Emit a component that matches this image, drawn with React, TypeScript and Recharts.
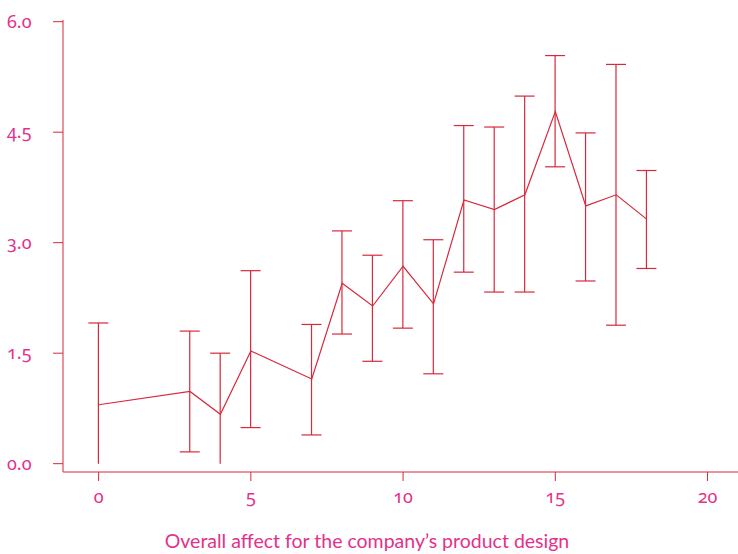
import { ComposedChart, Line, Bar, XAxis, YAxis, Label } from 'recharts';

// Error bar chart: mean rating per x with lower/upper bounds
const xs = [0, 3, 4, 5, 7, 8, 9, 10, 11, 12, 13, 14, 15, 16, 17, 18];
const means = [0.8, 0.98, 0.67, 1.53, 1.15, 2.45, 2.14, 2.68, 2.17, 3.58, 3.45, 3.65, 4.78, 3.5, 3.65, 3.32];
const lower = [0, 0.16, 0, 0.49, 0.39, 1.76, 1.39, 1.84, 1.22, 2.6, 2.33, 2.33, 4.03, 2.48, 1.88, 2.65];
const upper = [1.91, 1.8, 1.5, 2.62, 1.89, 3.16, 2.83, 3.57, 3.04, 4.59, 4.57, 4.99, 5.54, 4.49, 5.42, 3.98];

const xTicks = [0, 5, 10, 15, 20];
const yTicks = [0, 1.5, 3, 4.5, 6];
const xTitle = 'Overall affect for the company’s product design';

const LINE = '#d8283c';
const TEXT = '#e3318a';
const FONT = 'Lato, "Open Sans", sans-serif';
const NUM_FONT = '"Noto Sans", Lato, sans-serif';

const data = xs.map((x, i) => ({ x, mean: means[i], lo: lower[i], hi: upper[i], range: [lower[i], upper[i]] }));

function ErrorShape(props: any) {
  const { x, y, width, height, payload } = props;
  if (x == null || y == null) return null;
  const cx = x + width / 2;
  const top = Math.min(y, y + height);
  const bottom = Math.max(y, y + height);
  return (
    <g stroke={LINE} strokeWidth={1.2}>
      <line x1={cx} x2={cx} y1={top} y2={bottom} />
      <line x1={cx - 10} x2={cx + 10} y1={top} y2={top} />
      {payload.lo > 0 && <line x1={cx - 10} x2={cx + 10} y1={bottom} y2={bottom} />}
    </g>
  );
}

const numStyle = { fontVariantNumeric: 'oldstyle-nums', fontFeatureSettings: '"onum" 1' } as any;

function YTick(props: any) {
  const { y, payload } = props;
  return (
    <text x={7} y={y} dy="0.35em" textAnchor="start" fill={TEXT} fontSize={18} fontFamily={NUM_FONT} style={numStyle}>
      {payload.value.toFixed(1)}
    </text>
  );
}

function XTick(props: any) {
  const { x, y, payload } = props;
  return (
    <text x={x} y={y + 14} dy="0.35em" textAnchor="middle" fill={TEXT} fontSize={18} fontFamily={NUM_FONT} style={numStyle}>
      {payload.value}
    </text>
  );
}

export default function App() {
  return (
    <div style={{ position: 'absolute', left: 0, top: 0, background: '#fff' }}>
      <ComposedChart width={738} height={554} data={data} margin={{ top: 20, right: 0, bottom: 0, left: 0 }}>
        <XAxis
          dataKey="x"
          type="number"
          domain={[-1.17, 21.0]}
          ticks={xTicks}
          allowDataOverflow
          height={82}
          tickSize={9}
          stroke={LINE}
          tickLine={{ stroke: LINE }}
          axisLine={{ stroke: LINE }}
          tick={<XTick />}
        >
          <Label
            content={() => (
              <text x={367} y={541} dy="0.35em" textAnchor="middle" fill={TEXT} fontSize={19.5} fontFamily={FONT}>
                {xTitle}
              </text>
            )}
          />
        </XAxis>
        <YAxis
          type="number"
          domain={[-0.113, 6.023]}
          ticks={yTicks}
          allowDataOverflow
          width={63}
          tickSize={10}
          stroke={LINE}
          tickLine={{ stroke: LINE }}
          axisLine={{ stroke: LINE }}
          tick={<YTick />}
        />
        <Bar dataKey="range" barSize={20} shape={<ErrorShape />} isAnimationActive={false} />
        <Line dataKey="mean" type="linear" stroke={LINE} strokeWidth={1.2} dot={false} isAnimationActive={false} />
      </ComposedChart>
    </div>
  );
}
